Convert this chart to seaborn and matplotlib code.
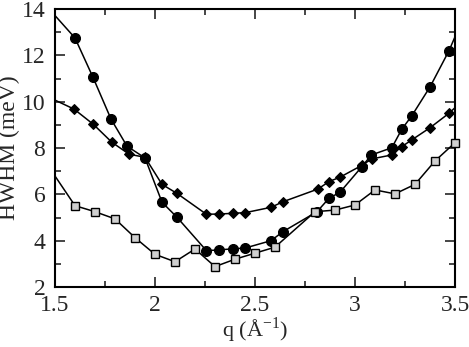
import matplotlib
matplotlib.use("Agg")
import matplotlib.pyplot as plt
import seaborn as sns
import numpy as np
import pandas as pd

# Data (first/last entries lie just outside the axes,
# they only carry the line to the frame)
q_circ = [1.45, 1.60, 1.69, 1.78, 1.86, 1.95, 2.035, 2.11, 2.257, 2.32, 2.39, 2.45,
          2.58, 2.64, 2.81, 2.87, 2.925, 3.034, 3.082, 3.184, 3.234, 3.284, 3.376, 3.47, 3.55]
w_circ = [14.2, 12.75, 11.05, 9.25, 8.08, 7.57, 5.66, 5.01, 3.57, 3.60, 3.65, 3.68,
          4.00, 4.39, 5.25, 5.83, 6.09, 7.19, 7.70, 8.01, 8.81, 9.39, 10.65, 12.2, 13.8]

q_diam = [1.45, 1.595, 1.692, 1.784, 1.871, 1.95, 2.035, 2.11, 2.257, 2.32, 2.39, 2.452,
          2.58, 2.64, 2.815, 2.87, 2.925, 3.034, 3.084, 3.184, 3.234, 3.284, 3.376, 3.47, 3.55]
w_diam = [10.27, 9.68, 9.02, 8.25, 7.73, 7.60, 6.43, 6.04, 5.14, 5.15, 5.18, 5.21,
          5.44, 5.68, 6.23, 6.55, 6.74, 7.25, 7.53, 7.70, 8.06, 8.35, 8.88, 9.50, 10.14]

q_sq = [1.45, 1.6, 1.7, 1.8, 1.9, 2.0, 2.1, 2.2, 2.3, 2.4, 2.5, 2.6,
        2.8, 2.9, 3.0, 3.1, 3.2, 3.3, 3.4, 3.5]
w_sq = [7.43, 5.51, 5.25, 4.94, 4.13, 3.41, 3.09, 3.64, 2.88, 3.20, 3.46, 3.72,
        5.25, 5.32, 5.54, 6.19, 6.02, 6.43, 7.44, 8.23]

x_major = [1.5, 2, 2.5, 3, 3.5]
x_tick_labels = ["1.5", "2", "2.5", "3", "3.5"]
y_major = [2, 4, 6, 8, 10, 12, 14]

sns.set_style("ticks")
plt.rcParams["font.family"] = "serif"
plt.rcParams["font.serif"] = ["Liberation Serif", "FreeSerif", "DejaVu Serif"]
plt.rcParams["mathtext.fontset"] = "custom"
plt.rcParams["mathtext.rm"] = "Liberation Serif"

fig = plt.figure(figsize=(4.69, 3.47), dpi=100)
ax = fig.add_axes([55 / 469, 1 - 287 / 347, 400 / 469, 278 / 347])

styles = [
    (q_circ, w_circ, dict(marker="o", markersize=7.2, markerfacecolor="black")),
    (q_diam, w_diam, dict(marker="D", markersize=5.2, markerfacecolor="black")),
    (q_sq, w_sq, dict(marker="s", markersize=6.2, markerfacecolor="#cfcfcf",
                      markeredgewidth=1.0)),
]

for q, w, mk in styles:
    df = pd.DataFrame({"q": q, "w": w})
    # connecting line (clipped at the frame)
    sns.lineplot(data=df, x="q", y="w", sort=False, color="black",
                 linewidth=1.1, ax=ax, zorder=2)
    # markers for points inside the frame
    inside = df[(df.q >= 1.5) & (df.q <= 3.5)]
    sns.lineplot(data=inside, x="q", y="w", sort=False, color="black",
                 linestyle="", markeredgecolor="black", clip_on=False,
                 ax=ax, zorder=3, **mk)

ax.set_xlim(1.5, 3.5)
ax.set_ylim(2, 14)
ax.set_xticks(x_major)
ax.set_xticklabels(x_tick_labels)
ax.set_yticks(y_major)
ax.set_xticks(np.arange(1.5, 3.51, 0.25), minor=True)
ax.set_yticks(np.arange(2, 14.1, 1), minor=True)
ax.tick_params(which="both", direction="in", top=True, right=True,
               labelsize=17, width=1.2)
ax.tick_params(axis="x", pad=6)
ax.tick_params(axis="y", pad=7)
ax.tick_params(which="major", length=7)
ax.tick_params(which="minor", length=4)
for s in ax.spines.values():
    s.set_linewidth(1.5)
    s.set_color("black")

ax.set_xlabel(r"q (Å$^{-1}$)", fontsize=16, labelpad=-1)
ax.set_ylabel("HWHM (meV)", fontsize=17, labelpad=1)

fig.savefig("out.png", dpi=100)
